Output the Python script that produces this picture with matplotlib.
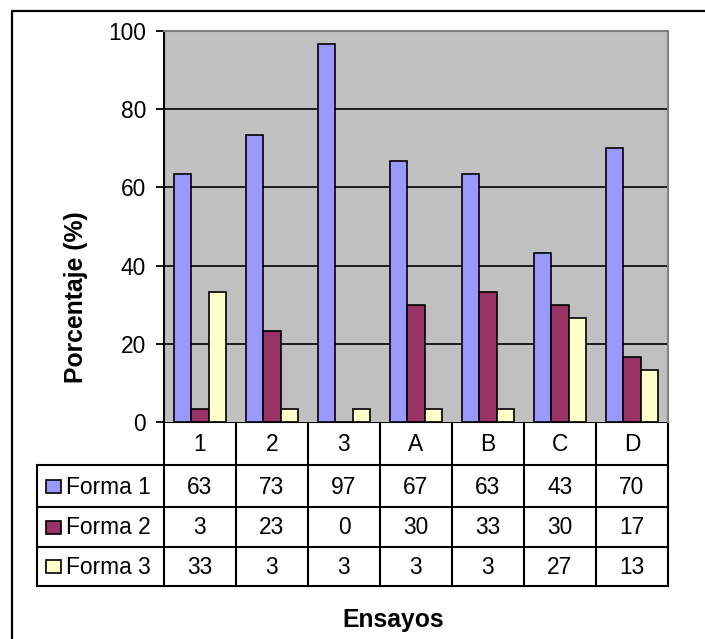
import matplotlib.pyplot as plt
from matplotlib.patches import Rectangle

# ── Datos ─────────────────────────────────────────────────────────────────────
ensayos = ["1", "2", "3", "A", "B", "C", "D"]
series = ["Forma 1", "Forma 2", "Forma 3"]
forma1 = [63.3, 73.3, 96.7, 66.7, 63.3, 43.3, 70.0]
forma2 = [3.3, 23.3, 0.0, 30.0, 33.3, 30.0, 16.7]
forma3 = [33.3, 3.3, 3.3, 3.3, 3.3, 26.7, 13.3]
colores = ["#9999FF", "#993366", "#FFFFCC"]
yticks = [0, 20, 40, 60, 80, 100]

# ── Layout (px) ───────────────────────────────────────────────────────────────
W, H, DPI = 705, 639, 100
PL, PR, PT, PB = 164, 668, 31, 422       # plot area
TL = 37                                   # table left (legend column)
ROWS = [422, 465, 507, 547, 586]          # table horizontal lines
FS = 16.4
FS_TIT = 17.8

plt.rcParams["font.family"] = ["Liberation Sans", "DejaVu Sans"]

fig = plt.figure(figsize=(W / DPI, H / DPI), dpi=DPI)

# overlay in pixel coordinates for border and table
tax = fig.add_axes([0, 0, 1, 1])
tax.set_xlim(0, W)
tax.set_ylim(H, 0)
tax.axis("off")
tax.plot([12, 12, W], [H, 11, 11], color="black", lw=1.6)

ax = fig.add_axes([PL / W, 1 - PB / H, (PR - PL) / W, (PB - PT) / H])
ax.set_facecolor("#C0C0C0")

n = len(ensayos)
bw = 0.245
for k, (vals, col) in enumerate(zip([forma1, forma2, forma3], colores)):
    xs = [i + (k - 1) * bw for i in range(n)]
    ax.bar(xs, vals, width=bw, color=col, edgecolor="black", linewidth=1.2,
           zorder=3)

ax.set_xlim(-0.5, n - 0.5)
ax.set_ylim(0, 100)
ax.set_yticks(yticks)
ax.set_yticklabels([str(t) for t in yticks], fontsize=FS)
ax.set_xticks([])
for y in yticks[1:-1]:
    ax.axhline(y, color="black", lw=1.2, zorder=2)
ax.tick_params(axis="y", length=6, width=1.3, pad=7)
for side in ["top", "right"]:
    ax.spines[side].set_color("#808080")
    ax.spines[side].set_linewidth(1.5)
ax.spines["left"].set_linewidth(1.5)
ax.spines["bottom"].set_visible(False)

# ── Tabla de datos ────────────────────────────────────────────────────────────
cw = (PR - PL) / n
lw = 1.5
tax.plot([PL, PR], [ROWS[0], ROWS[0]], color="black", lw=lw)
for r in ROWS[1:]:
    tax.plot([TL, PR], [r, r], color="black", lw=lw)
for i in range(n + 1):
    tax.plot([PL + i * cw] * 2, [ROWS[0], ROWS[-1]], color="black", lw=lw)
tax.plot([TL, TL], [ROWS[1], ROWS[-1]], color="black", lw=lw)

for i, e in enumerate(ensayos):
    tax.text(PL + (i + 0.5) * cw, (ROWS[0] + ROWS[1]) / 2 + 1, e,
             ha="center", va="center", fontsize=FS)

for k, (name, vals, col) in enumerate(zip(series, [forma1, forma2, forma3], colores)):
    yc = (ROWS[k + 1] + ROWS[k + 2]) / 2
    tax.add_patch(Rectangle((TL + 9, yc - 6.5), 15, 13, facecolor=col,
                            edgecolor="black", lw=1.2))
    tax.text(TL + 29, yc + 1, name, ha="left", va="center", fontsize=FS)
    for i, v in enumerate(vals):
        tax.text(PL + (i + 0.5) * cw, yc + 1, f"{round(v)}",
                 ha="center", va="center", fontsize=FS)

# ── Títulos de ejes ───────────────────────────────────────────────────────────
tax.text(393, 620, "Ensayos", ha="center", va="center",
         fontsize=FS_TIT, fontweight="bold")
tax.text(76, 297, "Porcentaje (%)", ha="center", va="center", rotation=90,
         fontsize=FS_TIT, fontweight="bold")

fig.savefig("out.png", dpi=DPI)
